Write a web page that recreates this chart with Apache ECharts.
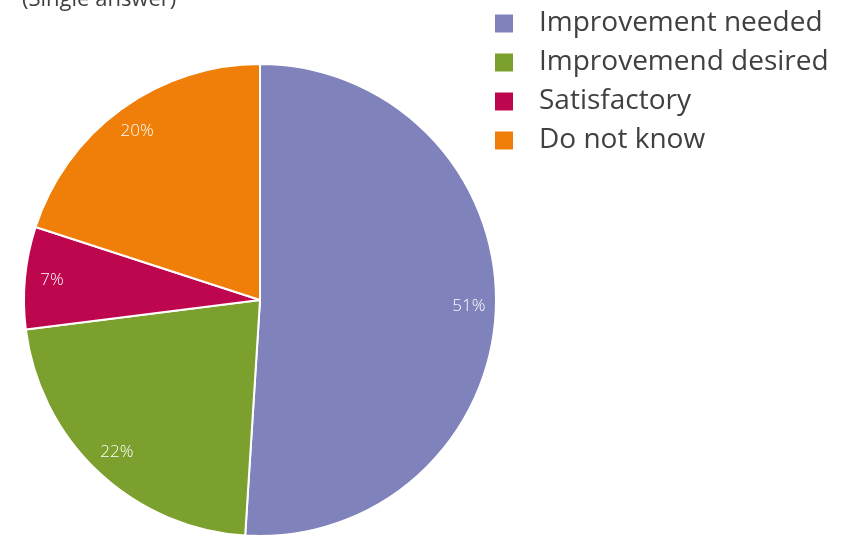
<!DOCTYPE html>
<html><head><meta charset="utf-8">
<script src="https://cdn.jsdelivr.net/npm/echarts@6/dist/echarts.min.js"></script>
<style>html,body{margin:0;padding:0;background:#fff}#c{width:850px;height:535px}</style>
</head><body><div id="c"></div>
<script>
const categories = ['Improvement needed', 'Improvemend desired', 'Satisfactory', 'Do not know'];
const values = [51, 22, 7, 20];
const colors = ['#7F82BB', '#7BA02D', '#BE064F', '#F07F09'];
const subtitle = '(Single answer)';

const chart = echarts.init(document.getElementById('c'));
const data = categories.map((n, i) => ({ name: n, value: values[i], itemStyle: { color: colors[i] } }));
chart.setOption({
  animation: false,
  graphic: [{ type: 'text', left: 22, top: -11, style: { text: subtitle, font: '22px "Open Sans"', fill: '#404040' } }],
  legend: {
    orient: 'vertical', left: 488, top: -1, icon: 'rect', itemWidth: 20, itemHeight: 20, itemGap: 0,
    data: categories,
    textStyle: { fontFamily: 'Open Sans', fontSize: 28, color: '#404040', lineHeight: 39, padding: [0, 0, 0, 20] }
  },
  series: [
    {
      type: 'pie', center: [260, 300], radius: [0, 236], startAngle: 90, clockwise: true,
      data: data, label: { show: false }, labelLine: { show: false },
      itemStyle: { borderColor: '#fff', borderWidth: 2 }, emphasis: { disabled: true }
    },
    {
      type: 'pie', center: [260, 300], radius: [176, 236], startAngle: 90, clockwise: true, silent: true,
      data: categories.map((n, i) => ({ name: n, value: values[i], itemStyle: { color: 'rgba(0,0,0,0)' } })),
      label: { show: true, position: 'inside', formatter: p => p.value + '%', color: '#fff', fontFamily: 'Open Sans', fontSize: 17, fontWeight: 300 },
      labelLine: { show: false }, legendHoverLink: false, emphasis: { disabled: true }
    }
  ]
});
</script></body></html>
